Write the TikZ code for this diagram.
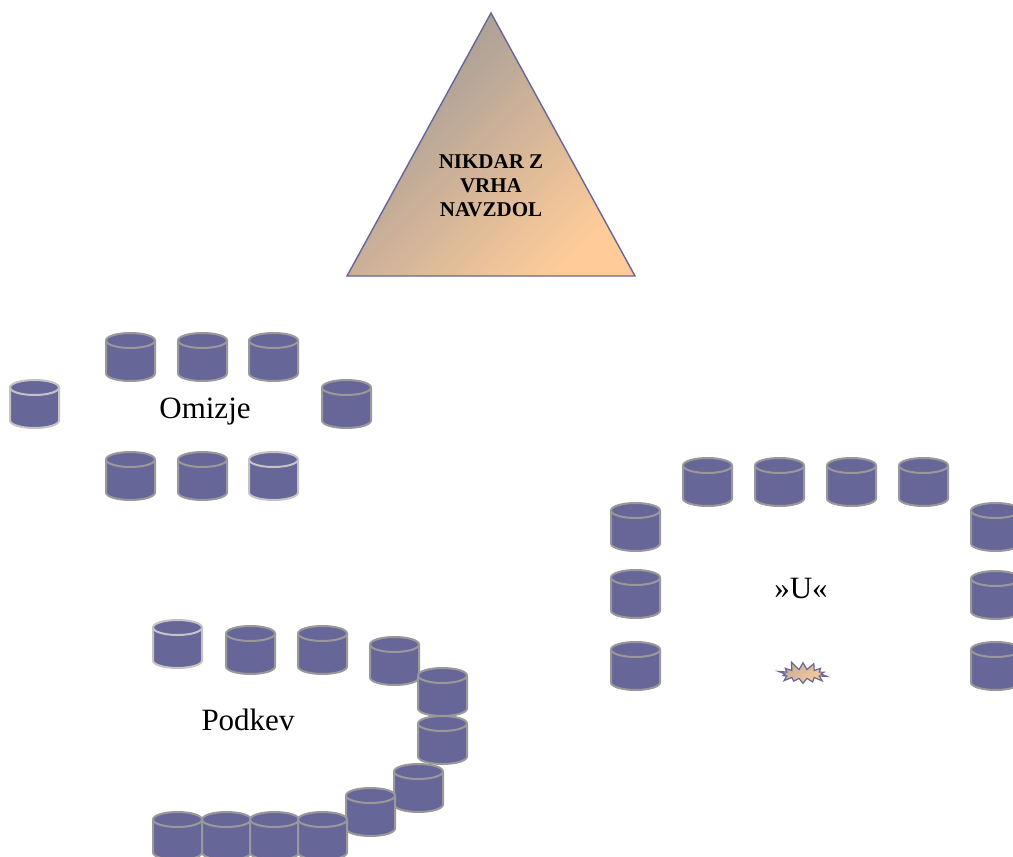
\documentclass[tikz,border=0pt]{standalone}
\usepackage{fontspec}
\setmainfont{Liberation Serif}
\usetikzlibrary{shapes.symbols}
\definecolor{cylfill}{HTML}{666699}
\definecolor{cylgray}{HTML}{999999}
\definecolor{cylpale}{HTML}{C4C4C4}
\definecolor{peakline}{HTML}{666699}
\definecolor{shadeA}{HTML}{9C9898}
\definecolor{shadeB}{HTML}{FFCC99}
\tikzset{
  pics/cyl/.style={code={
    \path[fill=cylfill, draw=#1, line width=2pt, line join=round]
      (0,-7.5) -- (0,-40.5) arc[start angle=180,end angle=360,x radius=24.5,y radius=7.5]
      -- (49,-7.5) arc[start angle=0,end angle=180,x radius=24.5,y radius=7.5] -- cycle;
    \draw[draw=#1, line width=2pt]
      (0,-7.5) arc[start angle=180,end angle=360,x radius=24.5,y radius=7.5];
    \coordinate (-c) at (24.5,-24);
  }},
  pics/cyl/.default=cylgray,
  label/.style={font=\fontsize{31}{36}\selectfont, text=black},
  peak/.style={draw=peakline, line width=1.4pt, left color=shadeA, right color=shadeB, shading angle=45},
}
\begin{document}
\begin{tikzpicture}[x=1pt,y=1pt]
\useasboundingbox[fill=white] (0,0) rectangle (1013,-857);

% peak
\path[peak] (491,-13) -- (635,-276) -- (347,-276) -- cycle;
\node[font=\bfseries\fontsize{21}{24}\selectfont, align=center] (title) at (491,-186) {NIKDAR Z\\VRHA\\NAVZDOL};

% Omizje
\pic (om1) at (106,-333) {cyl};
\pic (om2) at (178,-333) {cyl};
\pic (om3) at (249,-333) {cyl};
\pic (om4) at (10,-380) {cyl=cylpale};
\pic (om5) at (322,-380) {cyl};
\pic (om6) at (106,-452) {cyl};
\pic (om7) at (178,-452) {cyl};
\pic (om8) at (249,-452) {cyl=cylpale};
\node[label] (omizje) at (205,-412) {Omizje};

% U
\pic (u1) at (683,-458) {cyl};
\pic (u2) at (755,-458) {cyl};
\pic (u3) at (827,-458) {cyl};
\pic (u4) at (899,-458) {cyl};
\pic (u5) at (611,-503) {cyl};
\pic (u6) at (611,-570) {cyl};
\pic (u7) at (611,-642) {cyl};
\pic (u8) at (971,-503) {cyl};
\pic (u9) at (971,-571) {cyl};
\pic (u10) at (971,-642) {cyl};
\node[label] (ulabel) at (801,-588) {»U«};
\node[starburst, starburst points=14, starburst point height=9pt, random starburst=11,
      minimum width=54pt, minimum height=27pt, inner sep=0pt,
      draw=peakline, line width=1.2pt, left color=shadeA!60!shadeB, right color=shadeB, shading angle=45]
      (burst) at (803,-674) {};

% Podkev
\pic (pk1) at (153,-620) {cyl=cylpale};
\pic (pk2) at (226,-626) {cyl};
\pic (pk3) at (298,-626) {cyl};
\pic (pk4) at (370,-637) {cyl};
\pic (pk5) at (418,-668) {cyl};
\pic (pk6) at (418,-716) {cyl};
\pic (pk7) at (394,-764) {cyl};
\pic (pk8) at (346,-788) {cyl};
\pic (pk9) at (153,-812) {cyl};
\pic (pk10) at (202,-812) {cyl};
\pic (pk11) at (250,-812) {cyl};
\pic (pk12) at (298,-812) {cyl};
\node[label] (podkev) at (248,-720) {Podkev};
\end{tikzpicture}
\end{document}
